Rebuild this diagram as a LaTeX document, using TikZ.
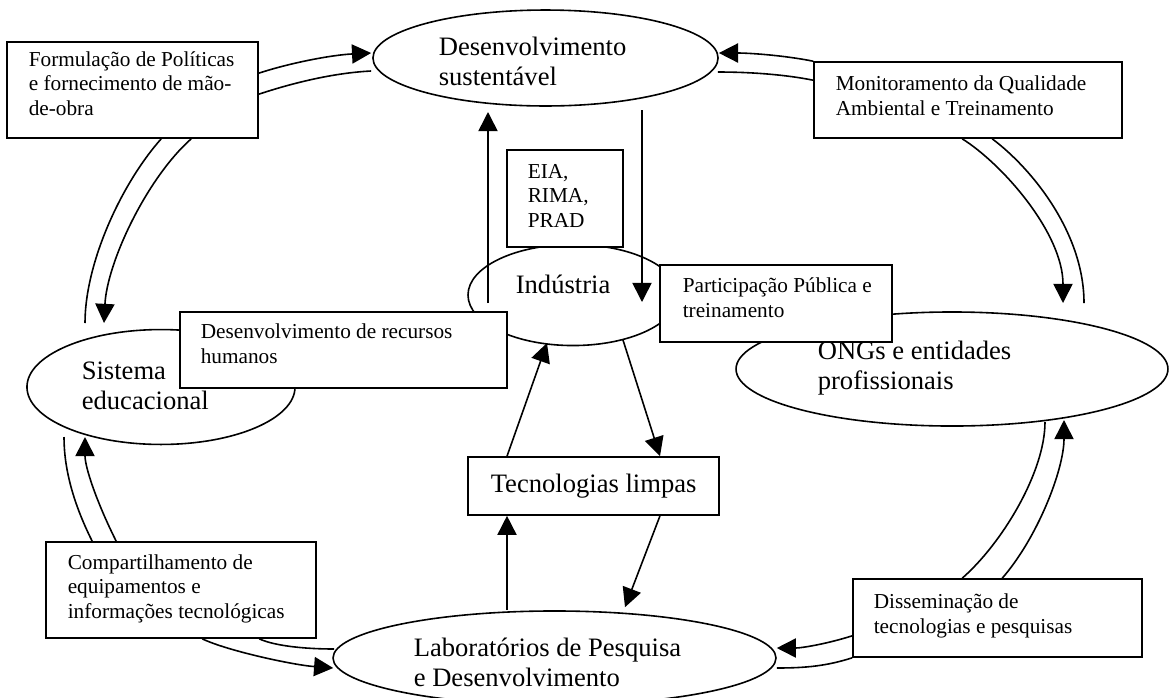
\documentclass[tikz,border=0pt]{standalone}
\usepackage{fontspec}
\setmainfont{Liberation Serif}
\usepackage{tikz}
\usetikzlibrary{arrows.meta,shapes.geometric,fit,calc}

\newcommand{\grande}{\fontsize{12.5}{14.1}\selectfont}
\newcommand{\pequena}{\fontsize{10}{11.3}\selectfont}

\begin{document}
\begin{tikzpicture}[x=0.47pt, y=-0.47pt,
	>={Triangle[length=9pt,width=9pt]},
	line width=0.75pt,
	oval/.style = {draw, ellipse, inner sep=0pt},
	box/.style = {draw, rectangle, fill=white, inner sep=0pt},
	txt/.style = {inner sep=0pt, align=left, anchor=base west, font=\pequena},
	big/.style = {inner sep=0pt, align=left, anchor=base west, font=\grande}
	]
	\useasboundingbox (0,0) rectangle (1170,697);
	
	\node (dsv) [oval, minimum width=162.2pt, minimum height=45.1pt] at (545.5,58) {};
	\node (ind) [oval, minimum width=98.7pt, minimum height=47.5pt] at (573,295) {};
	\node (edu) [oval, minimum width=126pt, minimum height=54pt] at (161,387) {};
	\node (ong) [oval, minimum width=203pt, minimum height=53.6pt] at (952,369) {};
	\node (lab) [oval, minimum width=208.2pt, minimum height=44.2pt] at (554.5,658) {};
	
	\node (pol) [box, fit={(7,42) (258,138)}] {};
	\node (mon) [box, fit={(814,62) (1122,138)}] {};
	\node (eia) [box, fit={(507,150) (623,247)}] {};
	\node (pub) [box, fit={(660,265) (892,342)}] {};
	\node (rh)  [box, fit={(180,312) (507,388)}] {};
	\node (tec) [box, fit={(468,457) (719,515)}] {};
	\node (com) [box, fit={(46,542) (316,638)}] {};
	\node (dis) [box, fit={(853,579) (1142,657)}] {};
	
	\draw[->] ($(pol.north east)+(0,32)$) .. controls +(30,-10) and +(-40,2) .. ($(dsv.west)+(-1,-5)$);
	\draw ($(pol.north east)+(0,53)$) .. controls +(30,-10) and +(-40,2) .. ($(dsv.west)+(-1,13)$);
	\draw ($(pol.south west)+(155,0)$) .. controls +(-40,45) and +(0,-60) .. ($(edu.center)+(-76,-64)$);
	\draw[->] ($(pol.south west)+(185,0)$) .. controls +(-45,40) and +(3,-60) .. ($(edu.center)+(-57,-64)$);
	
	\draw[->] (mon.north west) .. controls +(-30,-6) and +(30,0) .. ($(dsv.east)+(0,-5)$);
	\draw ($(mon.north west)+(0,19)$) .. controls +(-30,-6) and +(30,0) .. ($(dsv.east)+(-1,14)$);
	\draw[->] ($(mon.south west)+(149,0)$) .. controls +(40,25) and +(0,-70) .. ($(ong.center)+(111,-66)$);
	\draw ($(mon.south west)+(179,0)$) .. controls +(40,30) and +(0,-70) .. ($(ong.center)+(132,-66)$);
	
	\draw ($(dis.north west)+(110,0)$) .. controls +(40,-35) and +(0,50) .. ($(ong.center)+(93,53)$);
	\draw[->] ($(dis.north west)+(150,0)$) .. controls +(35,-40) and +(0,50) .. ($(ong.center)+(112,51)$);
	\draw[->] ($(dis.south west)+(0,-22)$) .. controls +(-25,8) and +(25,0) .. ($(lab.east)+(0,-10)$);
	\draw (dis.south west) .. controls +(-25,8) and +(30,0) .. ($(lab.east)+(0,10)$);
	
	\draw ($(com.north west)+(47,0)$) .. controls +(-20,-40) and +(0,30) .. ($(edu.center)+(-97,50)$);
	\draw[->] ($(com.north west)+(71,0)$) .. controls +(-20,-40) and +(0,30) .. ($(edu.center)+(-76,50)$);
	\draw ($(com.south west)+(214,0)$) .. controls +(15,7) and +(-30,0) .. ($(lab.west)+(2,-9)$);
	\draw[->] ($(com.south west)+(157,0)$) .. controls +(25,12) and +(-40,-3) .. ($(lab.west)+(1,10)$);
	
	\path[->]
	($(ind.center)+(-85,8)$)   edge ($(dsv.center)+(-57.5,54)$)
	($(dsv.center)+(96.5,52)$) edge ($(ind.center)+(69,7)$)
	($(ind.center)+(50,45)$)   edge ($(tec.north)+(66.5,0)$)
	($(tec.north)+(-86.5,0)$)  edge ($(ind.center)+(-26,48)$)
	($(lab.north)+(-47.5,0)$)  edge ($(tec.south)+(-86.5,0)$)
	($(tec.south)+(66.5,0)$)   edge ($(lab.north)+(70.5,-3)$);
	
	\node (dsvT) [big] at (438,85)  {Desenvolvimento\\sustentável};
	\node (indT) [big] at (515,293) {Indústria};
	\node (eduT) [big] at (81,409)  {Sistema\\educacional};
	\node (ongT) [big] at (817,389) {ONGs e entidades\\profissionais};
	\node (labT) [big] at (413,686) {Laboratórios de Pesquisa\\e Desenvolvimento};
	\node (tecT) [big] at (490,492) {Tecnologias limpas};
	
	\node (polT) [txt] at (28,115)  {Formulação de Políticas\\e fornecimento de mão-\\de-obra};
	\node (monT) [txt] at (835,115) {Monitoramento da Qualidade\\Ambiental e Treinamento};
	\node (eiaT) [txt] at (527,227) {EIA,\\RIMA,\\PRAD};
	\node (pubT) [txt] at (682,317) {Participação Pública e\\treinamento};
	\node (rhT)  [txt] at (200,363) {Desenvolvimento de recursos\\humanos};
	\node (comT) [txt] at (67,618)  {Compartilhamento de\\equipamentos e\\informações tecnológicas};
	\node (disT) [txt] at (873,633) {Disseminação de\\tecnologias e pesquisas};
\end{tikzpicture}
\end{document}
